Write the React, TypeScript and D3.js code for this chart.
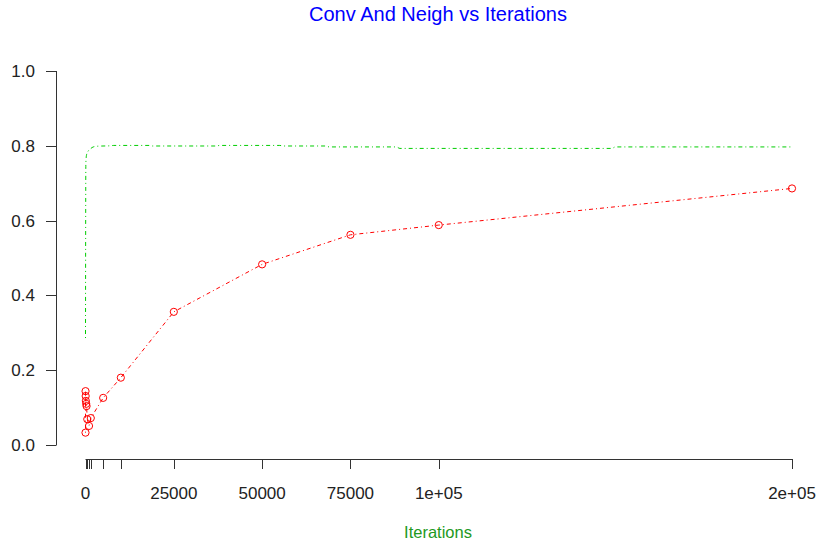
import React from "react";
import * as d3 from "d3";

// Convergence measured at each checkpoint (red markers)
const convIterations = [0, 10, 50, 100, 200, 300, 500, 1000, 1500, 5000, 10000, 25000, 50000, 75000, 100000, 200000];
const convValues = [0.033, 0.144, 0.131, 0.118, 0.110, 0.104, 0.069, 0.051, 0.072, 0.126, 0.180, 0.356, 0.483, 0.562, 0.588, 0.686];

// Neighbourhood score traced over the run (green line)
const neighIterations = [0, 100, 300, 700, 1300, 2200, 3500, 7000, 8000, 18000, 19000, 37000, 38000, 55000, 56000, 68000, 69000, 88000, 89000, 149000, 150000, 200000];
const neighValues = [0.286, 0.754, 0.776, 0.785, 0.791, 0.797, 0.799, 0.800, 0.801, 0.801, 0.7995, 0.7995, 0.801, 0.801, 0.7995, 0.7995, 0.797, 0.797, 0.793, 0.793, 0.797, 0.797];

// Axis ticks
const xTickValues = [0, 500, 1000, 1500, 5000, 10000, 25000, 50000, 75000, 100000, 200000];
const xTickLabels: [number, string][] = [
  [0, "0"],
  [25000, "25000"],
  [50000, "50000"],
  [75000, "75000"],
  [100000, "1e+05"],
  [200000, "2e+05"],
];
const yTickValues = [0, 0.2, 0.4, 0.6, 0.8, 1.0];

const W = 817;
const H = 544;
const FONT = "'Liberation Sans', Arial, sans-serif";

export default function App() {
  const x = d3.scaleLinear().domain([0, 200000]).range([85.5, 792]);
  const y = d3.scaleLinear().domain([0, 1]).range([445, 71]);
  const xAxisY = 459;
  const yAxisX = 56;

  const conv = convIterations.map((it, i) => [it, convValues[i]] as [number, number]);
  const neigh = neighIterations.map((it, i) => [it, neighValues[i]] as [number, number]);

  const line = d3
    .line<[number, number]>()
    .x((d) => x(d[0]))
    .y((d) => y(d[1]));

  const neighLine = d3
    .line<[number, number]>()
    .x((d) => x(d[0]))
    .y((d) => y(d[1]))
    .curve(d3.curveMonotoneX);

  return (
    <svg
      width={W}
      height={H}
      style={{ position: "absolute", left: 0, top: 0, background: "#fff" }}
      fontFamily={FONT}
    >
      <rect width={W} height={H} fill="#fff" />

      {/* title */}
      <text x={438} y={21} textAnchor="middle" fontSize={20} fill="#0000FF">
        Conv And Neigh vs Iterations
      </text>

      {/* y axis */}
      <line x1={yAxisX + 0.5} x2={yAxisX + 0.5} y1={y(0)} y2={y(1)} stroke="#333" />
      {yTickValues.map((v) => (
        <g key={v}>
          <line
            x1={yAxisX - 10}
            x2={yAxisX + 0.5}
            y1={Math.round(y(v)) + 0.5}
            y2={Math.round(y(v)) + 0.5}
            stroke="#333"
          />
          <text x={35} y={y(v) + 6} textAnchor="end" fontSize={17} fill="#222">
            {v.toFixed(1)}
          </text>
        </g>
      ))}

      {/* x axis */}
      <line x1={x(0)} x2={x(200000)} y1={xAxisY + 0.5} y2={xAxisY + 0.5} stroke="#333" />
      {xTickValues.map((v) => (
        <line
          key={v}
          x1={Math.round(x(v)) + 0.5}
          x2={Math.round(x(v)) + 0.5}
          y1={xAxisY}
          y2={xAxisY + 10}
          stroke="#333"
        />
      ))}
      {xTickLabels.map(([v, label]) => (
        <text key={v} x={x(v)} y={499} textAnchor="middle" fontSize={17} fill="#222">
          {label}
        </text>
      ))}

      {/* x axis title */}
      <text x={438} y={538} textAnchor="middle" fontSize={16.5} fill="#229922">
        Iterations
      </text>

      {/* neighbourhood line */}
      <path
        d={neighLine(neigh) ?? ""}
        fill="none"
        stroke="#00CD00"
        strokeWidth={1}
        strokeDasharray="1 3 4 3"
      />

      {/* convergence line with markers */}
      <path
        d={line(conv) ?? ""}
        fill="none"
        stroke="#FF0000"
        strokeWidth={1}
        strokeDasharray="1 3 4 3"
      />
      {conv.map((d, i) => (
        <circle key={i} cx={x(d[0])} cy={y(d[1])} r={3.6} fill="none" stroke="#FF0000" strokeWidth={1} />
      ))}
    </svg>
  );
}
